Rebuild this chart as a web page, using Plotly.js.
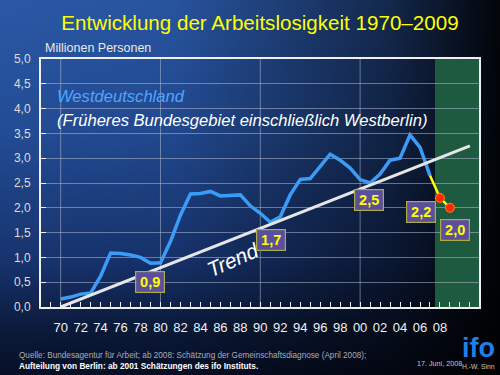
<!DOCTYPE html>
<html>
<head>
<meta charset="utf-8">
<script src="https://cdn.plot.ly/plotly-3.0.1.min.js"></script>
<style>
  html, body { margin:0; padding:0; width:500px; height:375px; overflow:hidden; background:#000; }
  #bg { position:absolute; left:0; top:0; width:500px; height:375px;
    background:
      linear-gradient(to right, rgba(0,0,0,0) 0%, rgba(0,0,0,0.05) 35%, rgba(0,0,0,0.55) 78%, rgba(0,0,0,0.95) 100%),
      linear-gradient(to bottom, #2a58a6 0%, #234c95 35%, #17336e 70%, #0b1a3a 88%, #070f26 100%);
  }
  #chart { position:absolute; left:0; top:0; width:500px; height:375px; }
</style>
</head>
<body>
<div id="bg"></div>
<div id="chart"></div>
<script>
// ---- data ----
const years = [1970,1971,1972,1973,1974,1975,1976,1977,1978,1979,
               1980,1981,1982,1983,1984,1985,1986,1987,1988,1989,
               1990,1991,1992,1993,1994,1995,1996,1997,1998,1999,
               2000,2001,2002,2003,2004,2005,2006,2007];
const unemployed = [0.16,0.20,0.26,0.28,0.62,1.09,1.08,1.05,1.00,0.88,
                    0.89,1.32,1.85,2.28,2.29,2.33,2.24,2.25,2.26,2.04,
                    1.89,1.71,1.82,2.26,2.57,2.59,2.83,3.08,2.96,2.80,
                    2.57,2.50,2.68,2.96,3.00,3.47,3.22,2.65];
const forecastYears = [2008, 2009];
const forecastValues = [2.2, 2.0];
const trendYears = [1970, 2011];
const trendValues = [0.0, 3.25];
const tickYears = [1970,1972,1974,1976,1978,1980,1982,1984,1986,1988,1990,1992,1994,1996,1998,2000,2002,2004,2006,2008];
const tickLabels = ["70","72","74","76","78","80","82","84","86","88","90","92","94","96","98","00","02","04","06","08"];
const labelTexts = ["0,9","1,7","2,5","2,2","2,0"];
const gridYears = [1970, 1980, 1990, 2000];
const forecastStart = 2007.5;

// ---- layout helpers ----
const xRange = [1968.03, 2011.91];
const F = '"Liberation Sans", Arial, sans-serif';
const labelPos = [[1978.95,0.51],[1991.04,1.36],[2000.92,2.16],[2006.1,1.92],[2009.5,1.56]];

const lastYear = years[years.length-1], lastVal = unemployed[unemployed.length-1];

const traces = [
  {x: years, y: unemployed, type:'scatter', mode:'lines',
   line:{color:'#3a9cf6', width:3.5}, hoverinfo:'skip'},
  {x: trendYears, y: trendValues, type:'scatter', mode:'lines',
   line:{color:'#e6e6e6', width:3}, hoverinfo:'skip'},
  {x: [lastYear].concat(forecastYears), y: [lastVal].concat(forecastValues), type:'scatter', mode:'lines',
   line:{color:'#ffff00', width:2.5}, hoverinfo:'skip'},
  {x: forecastYears, y: forecastValues, type:'scatter', mode:'markers',
   marker:{color:'#ff2a00', size:9, line:{color:'#ff8a00', width:1}}, hoverinfo:'skip'}
];

const shapes = [
  {type:'rect', xref:'x', yref:'y', x0:forecastStart, x1:xRange[1], y0:0, y1:5,
   fillcolor:'#1d5a3f', line:{width:0}, layer:'below'}
].concat(gridYears.map(g => ({type:'line', xref:'x', yref:'y', x0:g, x1:g, y0:0, y1:5,
   line:{color:'rgba(175,185,205,0.55)', width:1}, layer:'below'})));

const annotations = [
  {xref:'paper', yref:'paper', x:(43-41)/438, y:(307-48)/248, xanchor:'left', yanchor:'middle',
   text:'Millionen Personen', showarrow:false, font:{family:F, size:12.5, color:'#e8e8e8'}},
  {xref:'x', yref:'y', x:1969.4, y:4.25, xanchor:'left', yanchor:'middle',
   text:'<i>Westdeutschland</i>', showarrow:false, font:{family:F, size:16.6, color:'#4fa6ff'}},
  {xref:'x', yref:'y', x:1969.4, y:3.77, xanchor:'left', yanchor:'middle',
   text:'<i>(Früheres Bundesgebiet einschließlich Westberlin)</i>', showarrow:false, font:{family:F, size:16.6, color:'#ffffff'}},
  {xref:'x', yref:'y', x:1987.3, y:0.95, xanchor:'center', yanchor:'middle', textangle:-24,
   text:'<i>Trend</i>', showarrow:false, font:{family:F, size:21, color:'#ffffff'}},
  {xref:'paper', yref:'paper', x:(17-41)/438, y:(307-355.5)/248, xanchor:'left', yanchor:'middle',
   text:'Quelle: Bundesagentur für Arbeit; ab 2008: Schätzung der Gemeinschaftsdiagnose (April 2008);',
   showarrow:false, font:{family:F, size:8.2, color:'#a8adb8'}},
  {xref:'paper', yref:'paper', x:(17-41)/438, y:(307-365.5)/248, xanchor:'left', yanchor:'middle',
   text:'<b>Aufteilung von Berlin: ab 2001 Schätzungen des ifo Instituts.</b>',
   showarrow:false, font:{family:F, size:8.3, color:'#ffffff'}},
  {xref:'paper', yref:'paper', x:(415-41)/438, y:(307-363.5)/248, xanchor:'left', yanchor:'middle',
   text:'17. Juni, 2008', showarrow:false, font:{family:F, size:7.2, color:'#c8c8c8'}},
  {xref:'paper', yref:'paper', x:(478-41)/438, y:(307-348)/248, xanchor:'center', yanchor:'middle',
   text:'<b>ifo</b>', showarrow:false, font:{family:F, size:27, color:'#1e80ea'}},
  {xref:'paper', yref:'paper', x:(478-41)/438, y:(307-366.5)/248, xanchor:'center', yanchor:'middle',
   text:'H.-W. Sinn', showarrow:false, font:{family:F, size:6.8, color:'#c8c8c8'}}
].concat(labelTexts.map((t,i) => ({
   xref:'x', yref:'y', x:labelPos[i][0], y:labelPos[i][1], xanchor:'center', yanchor:'middle',
   text:'<b>'+t+'</b>', showarrow:false, width:28, height:20, borderpad:0,
   bgcolor:'#5b4e9c', bordercolor:'#aeaa46', borderwidth:1.2,
   font:{family:F, size:14.5, color:'#ffff00'}})));

const layout = {
  width:500, height:375,
  margin:{l:41, r:21, t:59, b:68, pad:0},
  paper_bgcolor:'rgba(0,0,0,0)', plot_bgcolor:'rgba(0,0,0,0)',
  separators:',.',
  showlegend:false,
  title:{text:'Entwicklung der Arbeitslosigkeit 1970–2009', x:260/500, xanchor:'center',
         y:1-23/375, yanchor:'middle', font:{family:F, size:20.6, color:'#ffff00'}},
  xaxis:{range:xRange, tickmode:'array', tickvals:tickYears, ticktext:tickLabels,
         showgrid:false, zeroline:false, showline:true, linecolor:'#f0f0f0', linewidth:2, mirror:true,
         ticks:'inside', ticklen:5, tickcolor:'#f0f0f0', tickwidth:1,
         minor:{tickmode:'linear', tick0:1970, dtick:1, ticks:'inside', ticklen:5, tickcolor:'#f0f0f0', showgrid:false},
         ticklabelstandoff:7, tickfont:{family:F, size:13, color:'#f0f0f0'}},
  yaxis:{range:[0,5], tickmode:'linear', tick0:0, dtick:0.5, tickformat:'.1f',
         showgrid:true, gridcolor:'rgba(175,185,205,0.55)', gridwidth:1, zeroline:false,
         showline:true, linecolor:'#f0f0f0', linewidth:2, mirror:true,
         ticks:'inside', ticklen:5, tickcolor:'#f0f0f0',
         ticklabelstandoff:6, tickfont:{family:F, size:12, color:'#dcdcdc'}},
  shapes: shapes,
  annotations: annotations
};

Plotly.newPlot('chart', traces, layout, {staticPlot:true, displayModeBar:false});
</script>
</body>
</html>
